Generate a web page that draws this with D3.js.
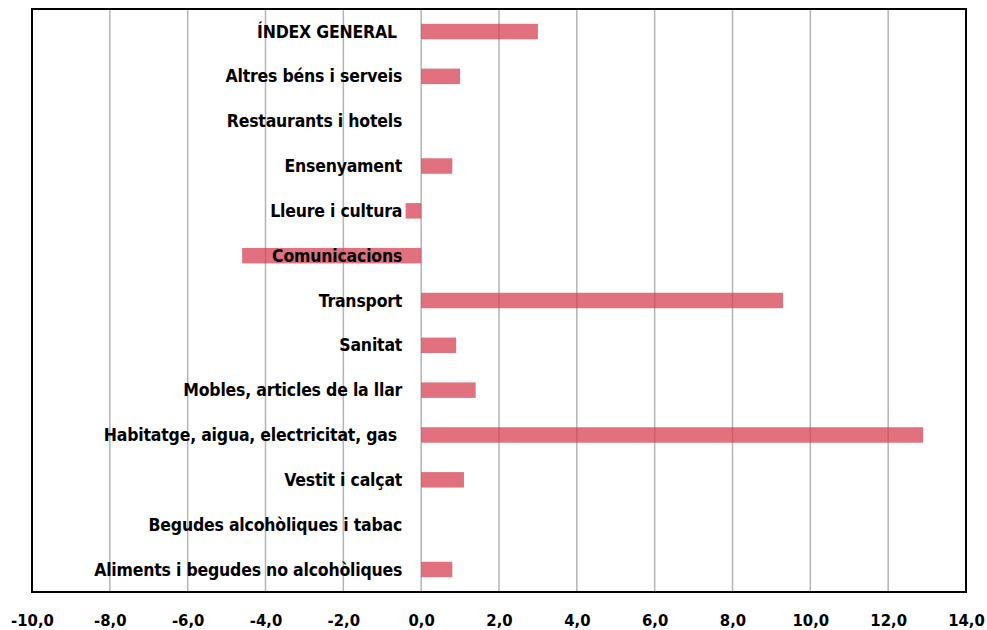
<!DOCTYPE html>
<html>
<head>
<meta charset="utf-8">
<script src="https://cdn.jsdelivr.net/npm/d3@7"></script>
<style>
  body { margin: 0; background: #fff; }
  svg text { font-family: "Liberation Sans Narrow", "DejaVu Sans Condensed", "Liberation Sans", sans-serif; font-weight: bold; }
</style>
</head>
<body>
<svg id="chart"></svg>
<script>
var categories = [
  "ÍNDEX GENERAL ",
  "Altres béns i serveis",
  "Restaurants i hotels",
  "Ensenyament",
  "Lleure i cultura",
  "Comunicacions",
  "Transport",
  "Sanitat",
  "Mobles, articles de la llar",
  "Habitatge, aigua, electricitat, gas ",
  "Vestit i calçat",
  "Begudes alcohòliques i tabac",
  "Aliments i begudes no alcohòliques"
];
var values = [3.0, 1.0, 0, 0.8, -0.4, -4.6, 9.3, 0.9, 1.4, 12.9, 1.1, 0, 0.8];
var ticks = [-10, -8, -6, -4, -2, 0, 2, 4, 6, 8, 10, 12, 14];

var margin = { top: 9, right: 21, bottom: 38, left: 32 },
  width = 987 - margin.left - margin.right,
  height = 630 - margin.top - margin.bottom;

var data = categories.map(function(c, i) { return { name: c, value: values[i] }; });

var x = d3.scaleLinear()
  .domain([-10, 14])
  .range([0, width]);
var y = d3.scaleBand()
  .domain(categories)
  .range([0, height])
  .paddingInner(0.655)
  .paddingOuter(0.33);

var svg = d3.select("#chart")
  .attr("width", width + margin.left + margin.right)
  .attr("height", height + margin.top + margin.bottom)
  .append("g")
  .attr("transform", "translate(" + margin.left + "," + margin.top + ")");

// gridlines
svg.append("g").selectAll("line")
    .data(ticks.slice(1, -1))
  .enter().append("line")
    .attr("x1", function(d) { return x(d); })
    .attr("x2", function(d) { return x(d); })
    .attr("y1", 0)
    .attr("y2", height)
    .style("stroke", "#b4b4b4")
    .style("stroke-width", 1.5);

// bars
svg.append("g").selectAll("rect")
    .data(data.filter(function(d) { return d.value !== 0; }))
  .enter().append("rect")
    .attr("x", function(d) { return x(Math.min(0, d.value)); })
    .attr("y", function(d) { return y(d.name); })
    .attr("width", function(d) { return Math.abs(x(d.value) - x(0)); })
    .attr("height", y.bandwidth())
    .style("fill", "rgb(214,58,78)")
    .style("fill-opacity", 0.72);

// category labels
svg.append("g").selectAll("text")
    .data(data)
  .enter().append("text")
    .attr("x", x(0) - 19)
    .attr("y", function(d) { return y(d.name) + y.bandwidth() / 2; })
    .attr("dy", "0.35em")
    .attr("text-anchor", "end")
    .style("font-size", "17.5px")
    .style("letter-spacing", "-0.2px")
    .attr("xml:space", "preserve")
    .text(function(d) { return d.name; });

// frame
svg.append("rect")
  .attr("width", width)
  .attr("height", height)
  .style("fill", "none")
  .style("stroke", "#000")
  .style("stroke-width", 2);

var xAxis = d3.axisBottom(x)
  .tickValues(ticks)
  .tickSize(0)
  .tickPadding(22)
  .tickFormat(function(d) { return d3.format(".1f")(d).replace(".", ",").replace("−", "-"); });

svg.append("g")
  .attr("transform", "translate(0," + height + ")")
  .call(xAxis)
  .call(function(g) { g.select(".domain").remove(); })
  .selectAll("text")
    .style("font-size", "16.5px")
    .style("fill", "#000");
</script>
</body>
</html>
